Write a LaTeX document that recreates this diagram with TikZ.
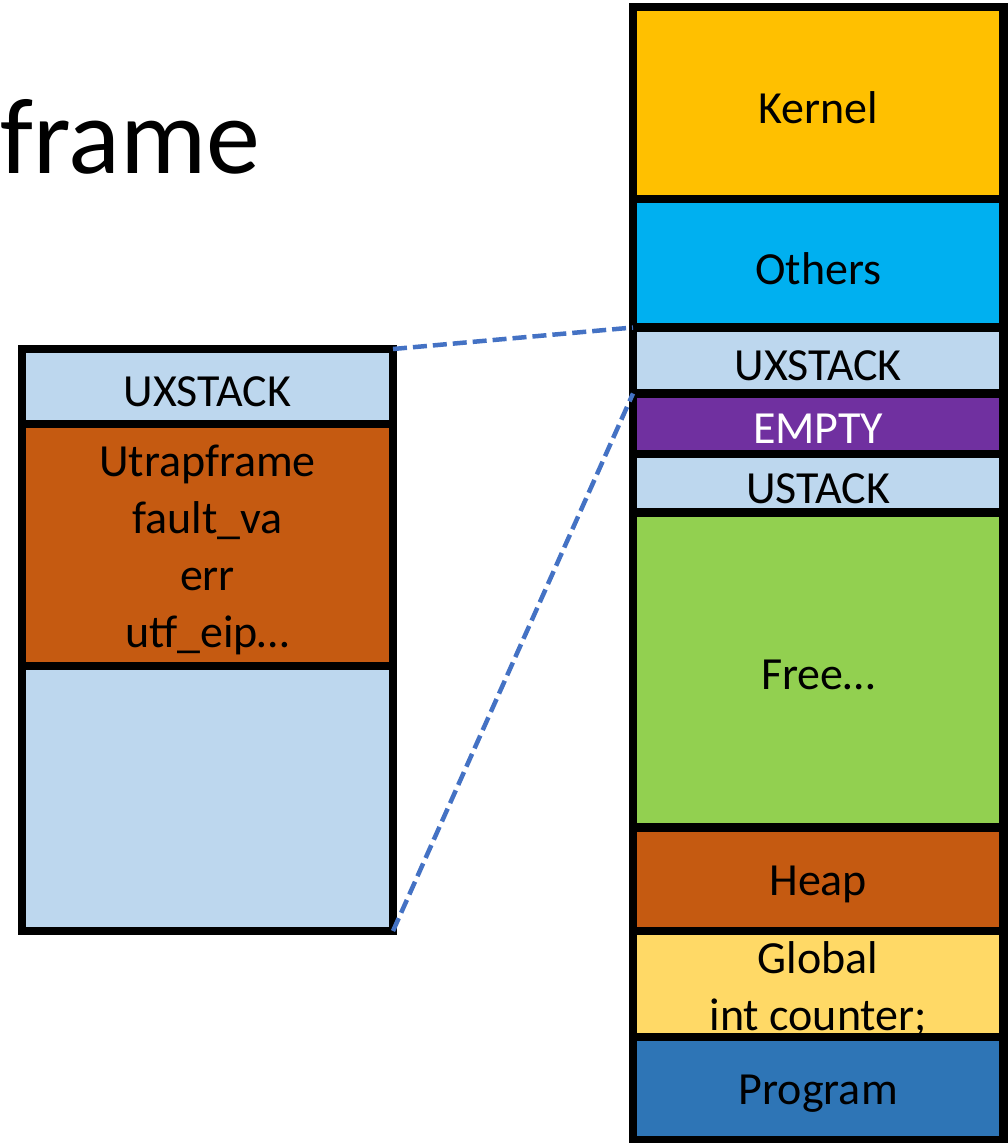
\documentclass[tikz,border=0pt]{standalone}
\usepackage{fontspec}
\setmainfont{Carlito}
\usetikzlibrary{positioning}

\definecolor{kernelYellow}{HTML}{FFC000}
\definecolor{othersBlue}{HTML}{00B0F0}
\definecolor{stackBlue}{HTML}{BDD7EE}
\definecolor{emptyPurple}{HTML}{7030A0}
\definecolor{freeGreen}{HTML}{92D050}
\definecolor{heapOrange}{HTML}{C55A11}
\definecolor{globalYellow}{HTML}{FFD966}
\definecolor{programBlue}{HTML}{2E75B6}
\definecolor{lineBlue}{HTML}{4472C4}

\begin{document}
\begin{tikzpicture}[x=1pt, y=-1pt]

	%blocks of the memory map have names of the form mKernel, mOthers ...
	%blocks of the exception stack have names of the form uTop, uFrame ...

	\def\edge{8.5}
	\def\memLeft{633}
	\def\memRight{1003.5}
	\def\uxLeft{22}
	\def\uxRight{393}
	\def\textDrop{-5pt}

	\tikzset{
		block/.style={rectangle, draw=black, line width=\edge pt, inner sep=0, outer sep=0},
		blocktext/.style={align=center, yshift=\textDrop, font=\fontsize{46}{57}\selectfont},
		dashline/.style={lineBlue, line width=4.5pt, dash pattern=on 14pt off 6pt}
	}

	\useasboundingbox (0,0) rectangle (1007,1143);

	%title, cut off at the left
	\node [anchor=base west, inner sep=0, font=\fontsize{108}{120}\selectfont] (title) at (0,173) {frame};

	%memory map, right
	\foreach \name/\top/\bottom/\colour/\ink/\text in {
		Kernel/7/199/kernelYellow/black/Kernel,
		Others/199/327.5/othersBlue/black/Others,
		Ux/327.5/393.5/stackBlue/black/UXSTACK,
		Empty/393.5/454/emptyPurple/white/EMPTY,
		Us/454/512.5/stackBlue/black/USTACK,
		Free/512.5/827.5/freeGreen/black/Free…,
		Heap/827.5/931/heapOrange/black/Heap,
		Global/931/1037/globalYellow/black/{Global\\int counter;},
		Program/1037/1140.5/programBlue/black/Program}
   {
		\node [block, fill=\colour, minimum width={\memRight-\memLeft}, minimum height={\bottom-\top},
			label={[blocktext, text=\ink]center:{\text}}]
			(m\name) at ({(\memLeft+\memRight)/2}, {(\top+\bottom)/2}) {};
   }

	%exception stack, left
	\foreach \name/\top/\bottom/\colour/\text in {
		Top/349/424/stackBlue/UXSTACK,
		Frame/424/666/heapOrange/{Utrapframe\\fault\_va\\err\\utf\_eip…},
		Rest/666/931/stackBlue/{}}
   {
		\node [block, fill=\colour, minimum width={\uxRight-\uxLeft}, minimum height={\bottom-\top},
			label={[blocktext]center:{\text}}]
			(u\name) at ({(\uxLeft+\uxRight)/2}, {(\top+\bottom)/2}) {};
   }

	%zoom lines
	\draw [dashline] (uTop.north east) -- (mUx.north west);
	\draw [dashline] (uRest.south east) -- (mUx.south west);

\end{tikzpicture}
\end{document}
